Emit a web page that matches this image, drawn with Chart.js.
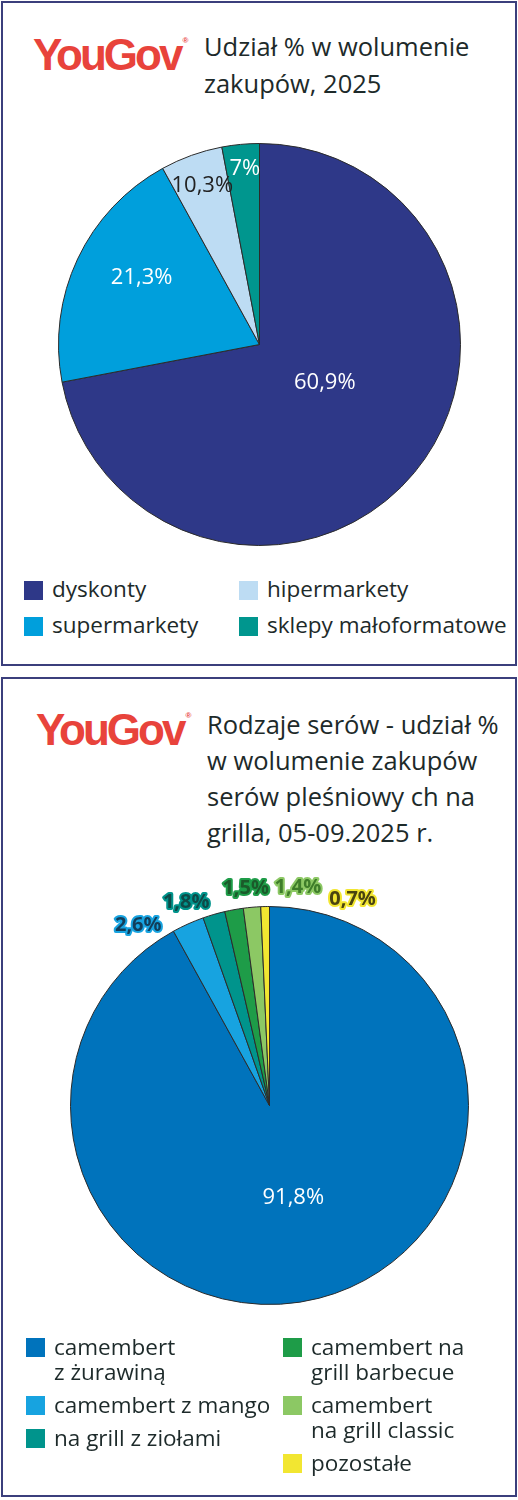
<!DOCTYPE html>
<html>
<head>
<meta charset="utf-8">
<script src="https://cdn.jsdelivr.net/npm/chart.js@4.4.1/dist/chart.umd.min.js"></script>
<style>
  body { margin: 0; background: #fff; font-family: "Open Sans", sans-serif; color: #1d2a2a; }
  #page { position: relative; width: 518px; height: 1500px; overflow: hidden; }
  .panel { position: absolute; left: 1px; width: 512px; border: 2px solid #3b3f7c; }
  .logo { position: absolute; font-family: "Liberation Sans", Arial, sans-serif; font-weight: bold;
          color: #e8433b; font-size: 44px; line-height: 1; letter-spacing: -3px; }
  .logo sup { font-size: 8px; letter-spacing: 0; position: relative; top: -27px; left: 2px; vertical-align: baseline; }
  .title { position: absolute; font-size: 25.5px; line-height: 37px; white-space: nowrap; }
  .legend { position: absolute; }
  .legend .col { position: absolute; top: 0; white-space: pre; }
  .legend .item { position: relative; white-space: pre; font-size: 22.5px; }
  .legend .sw { position: absolute; left: 0; width: 19px; height: 19px; }
  canvas { position: absolute; left: 0; }
</style>
</head>
<body>
<div id="page">
  <div class="panel" style="top:1px;height:661px"></div>
  <div class="panel" style="top:677px;height:816px"></div>

  <div class="logo" style="left:33px;top:33px">YouGov<sup>®</sup></div>
  <div class="title" style="left:204px;top:28px">Udział % w wolumenie<br>zakupów, 2025</div>

  <div class="logo" style="left:36px;top:708px">YouGov<sup>®</sup></div>
  <div class="title" style="left:207px;top:706px;line-height:36px">Rodzaje serów - udział %<br>w wolumenie zakupów<br>serów pleśniowy ch na<br>grilla, 05-09.2025 r.</div>

  <canvas id="shops" width="518" height="440" style="top:120px"></canvas>
  <canvas id="cheese" width="518" height="500" style="top:860px"></canvas>

  <div id="shopsLegend" class="legend" style="left:24px;top:577px"></div>
  <div id="cheeseLegend" class="legend" style="left:26px;top:1334px"></div>
</div>

<script>
// purchase volume share by shop type, 2025
const shopCategories = ['dyskonty', 'supermarkety', 'hipermarkety', 'sklepy małoformatowe'];
const shopShares = [72, 20, 5, 3];            // slice sizes as they are drawn
const shopLabels = ['60,9%', '21,3%', '10,3%', '7%'];   // printed labels
const shopColors = ['#2e3888', '#009fdc', '#bddcf3', '#00968e'];

// blue cheese for grilling, 05-09.2025
const cheeseCategories = ['camembert\nz żurawiną', 'camembert z mango', 'na grill z ziołami',
  'camembert na\ngrill barbecue', 'camembert\nna grill classic', 'pozostałe'];
const cheeseShares = [91.8, 2.6, 1.8, 1.5, 1.4, 0.7];
const cheeseColors = ['#0073bc', '#17a3e0', '#00948c', '#1e9c48', '#8cc864', '#f2e631'];

const pct = v => v.toFixed(1).replace('.', ',') + '%';

// draws the slice labels; place = radius fraction + small nudge
const sliceLabels = {
  id: 'sliceLabels',
  afterDatasetsDraw(chart, args, opts) {
    const ctx = chart.ctx;
    chart.getDatasetMeta(0).data.forEach((arc, i) => {
      const p = opts.place[i];
      const mid = (arc.startAngle + arc.endAngle) / 2;
      const r = arc.outerRadius * p.r;
      const x = arc.x + Math.cos(mid) * r + (p.dx || 0);
      const y = arc.y + Math.sin(mid) * r + (p.dy || 0);
      ctx.save();
      ctx.font = p.font || '22px "Open Sans"';
      ctx.textAlign = 'center';
      ctx.textBaseline = 'middle';
      if (p.stroke) {
        ctx.lineWidth = 4;
        ctx.lineJoin = 'round';
        ctx.strokeStyle = p.stroke;
        ctx.strokeText(opts.texts[i], x, y);
      }
      ctx.fillStyle = p.color || '#fff';
      ctx.fillText(opts.texts[i], x, y);
      ctx.restore();
    });
  }
};

function makePie(id, labels, values, colors, padding, labelOpts) {
  return new Chart(document.getElementById(id), {
    type: 'pie',
    data: {
      labels: labels,
      datasets: [{
        data: values,
        backgroundColor: colors,
        borderColor: '#2b2b2b',
        borderWidth: 1,
        hoverOffset: 0
      }]
    },
    options: {
      responsive: false,
      animation: false,
      devicePixelRatio: 1,
      layout: { padding: padding },
      plugins: {
        legend: { display: false },
        tooltip: { enabled: false },
        sliceLabels: labelOpts
      }
    },
    plugins: [sliceLabels]
  });
}

makePie('shops', shopCategories, shopShares, shopColors,
  { left: 58, right: 57, top: 23, bottom: 14 },
  {
    texts: shopLabels,
    place: [
      { r: 0.37, dx: 8, dy: -9 },
      { r: 0.67, dx: 4, dy: -9 },
      { r: 0.84, color: '#222' },
      { r: 0.88, dx: 2 }
    ]
  });

const outFont = 'bold 20px "Open Sans"';
makePie('cheese', cheeseCategories, cheeseShares, cheeseColors,
  { left: 70, right: 49, top: 46, bottom: 55 },
  {
    texts: cheeseShares.map(pct),
    place: [
      { r: 0.48 },
      { r: 1.12, dx: -40, dy: 23, font: outFont, color: '#123e5a', stroke: cheeseColors[1] },
      { r: 1.12, dx: -21, dy: 11, font: outFont, color: '#0e4a48', stroke: cheeseColors[2] },
      { r: 1.12, dx: 16, dy: 2, font: outFont, color: '#1b5a2a', stroke: cheeseColors[3] },
      { r: 1.12, dx: 48, dy: 4, font: outFont, color: '#3e7d2a', stroke: cheeseColors[4] },
      { r: 1.12, dx: 88, dy: 17, font: outFont, color: '#4a4410', stroke: cheeseColors[5] }
    ]
  });

// two-column legends, filled column by column
function buildLegend(id, names, colors, colX, lineH, gap) {
  const box = document.getElementById(id);
  const half = Math.ceil(names.length / 2);
  [0, 1].forEach(c => {
    const col = document.createElement('div');
    col.className = 'col';
    col.style.left = colX[c] + 'px';
    names.slice(c * half, (c + 1) * half).forEach((n, k) => {
      const it = document.createElement('div');
      it.className = 'item';
      it.style.lineHeight = lineH + 'px';
      it.style.marginBottom = gap + 'px';
      it.style.paddingLeft = '28px';
      const sw = document.createElement('span');
      sw.className = 'sw';
      sw.style.top = '4px';
      sw.style.background = colors[c * half + k];
      it.appendChild(sw);
      it.appendChild(document.createTextNode(n));
      col.appendChild(it);
    });
    box.appendChild(col);
  });
}

buildLegend('shopsLegend', shopCategories, shopColors, [0, 215], 24, 12);
buildLegend('cheeseLegend', cheeseCategories, cheeseColors, [0, 257], 25, 8);
</script>
</body>
</html>
